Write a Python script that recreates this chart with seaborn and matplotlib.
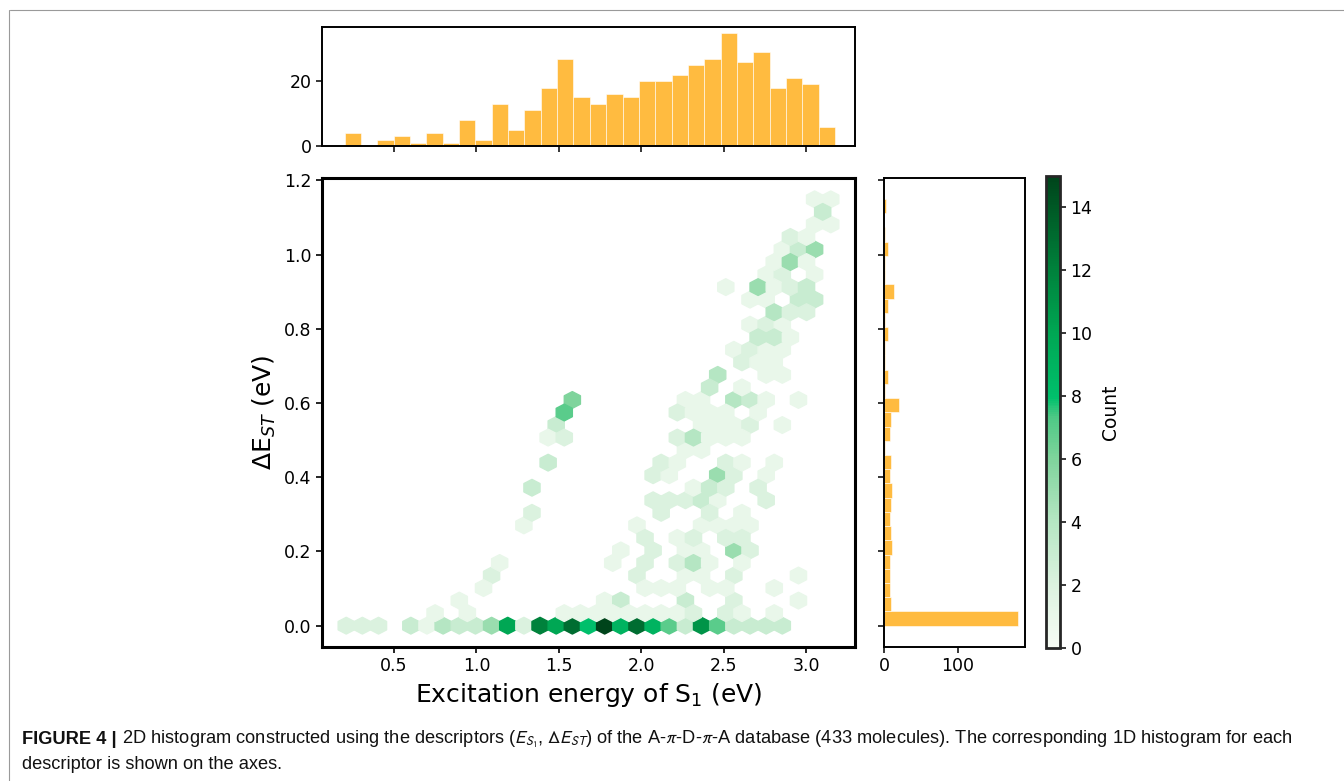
import numpy as np
import matplotlib
matplotlib.use("Agg")
import matplotlib.pyplot as plt
from matplotlib.colors import LinearSegmentedColormap
from matplotlib.lines import Line2D
from matplotlib import font_manager
import pandas as pd
import seaborn as sns

# === DATA ===
# hexbin cells: S1 energy (eV), gap (eV), molecules in the cell
e_s1 = [
    0.210, 0.308, 0.406, 0.602, 0.700, 0.798, 0.896, 0.994, 1.092, 1.190, 1.288, 1.386, 1.484, 1.582,
    1.680, 1.778, 1.876, 1.974, 2.072, 2.170, 2.268, 2.366, 2.464, 2.562, 2.660, 2.758, 2.856,  # 0.000
    0.749, 0.945, 1.533, 1.631, 1.729, 1.827, 1.925, 2.023, 2.121, 2.219, 2.317, 2.513, 2.611, 2.807,  # 0.034
    0.896, 1.778, 1.876, 2.268, 2.562, 2.954,  # 0.068
    1.043, 2.023, 2.121, 2.219, 2.415, 2.513, 2.807,  # 0.101
    1.092, 1.974, 2.268, 2.366, 2.562, 2.954,  # 0.135
    1.141, 1.827, 2.023, 2.219, 2.317, 2.415, 2.611,  # 0.169
    1.876, 2.072, 2.268, 2.366, 2.562, 2.660,  # 0.203
    2.023, 2.219, 2.317, 2.513, 2.611,  # 0.237
    1.288, 1.974, 2.366, 2.464, 2.562, 2.660,  # 0.270
    1.337, 2.121, 2.415, 2.611,  # 0.304
    2.072, 2.170, 2.268, 2.366, 2.464, 2.758,  # 0.338
    1.337, 2.317, 2.415, 2.513, 2.709,  # 0.372
    2.072, 2.170, 2.464, 2.562, 2.758,  # 0.406
    1.435, 2.121, 2.219, 2.513, 2.611, 2.807,  # 0.439
    2.268, 2.366,  # 0.473
    1.435, 1.533, 2.219, 2.317, 2.415, 2.513, 2.611,  # 0.507
    1.484, 2.366, 2.464, 2.562, 2.660, 2.856,  # 0.541
    1.533, 2.219, 2.317, 2.415, 2.513, 2.709,  # 0.575
    1.582, 2.268, 2.366, 2.562, 2.660, 2.758, 2.954,  # 0.608
    2.415, 2.611,  # 0.642
    2.464, 2.758, 2.856,  # 0.676
    2.611, 2.709, 2.807,  # 0.710
    2.562, 2.660, 2.758, 2.856,  # 0.744
    2.709, 2.807, 2.905,  # 0.777
    2.660, 2.758, 2.856,  # 0.811
    2.807, 2.905, 3.003,  # 0.845
    2.660, 2.758, 2.954, 3.052,  # 0.879
    2.513, 2.709, 2.807, 2.905, 3.003,  # 0.913
    2.758, 2.856, 3.052,  # 0.946
    2.807, 2.905, 3.003,  # 0.980
    2.856, 2.954, 3.052,  # 1.014
    2.905, 3.003,  # 1.048
    3.052, 3.150,  # 1.082
    3.101,  # 1.115
    3.052, 3.150,  # 1.149
]
d_est = (
    [0.000] * 27 + [0.034] * 14 + [0.068] * 6 + [0.101] * 7 + [0.135] * 6 + [0.169] * 7
    + [0.203] * 6 + [0.237] * 5 + [0.270] * 6 + [0.304] * 4 + [0.338] * 6 + [0.372] * 5
    + [0.406] * 5 + [0.439] * 6 + [0.473] * 2 + [0.507] * 7 + [0.541] * 6 + [0.575] * 6
    + [0.608] * 7 + [0.642] * 2 + [0.676] * 3 + [0.710] * 3 + [0.744] * 4 + [0.777] * 3
    + [0.811] * 3 + [0.845] * 3 + [0.879] * 4 + [0.913] * 5 + [0.946] * 3 + [0.980] * 3
    + [1.014] * 3 + [1.048] * 2 + [1.082] * 2 + [1.115] * 1 + [1.149] * 2
)
n_mol = [
    2, 2, 2, 3, 1, 4, 3, 3, 5, 10, 2, 12, 10, 13, 8, 15, 9, 13, 9, 7, 3, 11, 7, 3, 3, 3, 3,
    1, 1, 1, 1, 1, 1, 1, 1, 1, 1, 2, 2, 1, 1,
    1, 1, 3, 3, 2, 1,
    1, 1, 1, 1, 1, 1, 1,
    2, 2, 1, 1, 2, 1,
    1, 1, 2, 2, 4, 1, 1,
    1, 2, 1, 1, 5, 2,
    2, 1, 2, 2, 2,
    1, 1, 1, 1, 1, 1,
    2, 2, 2, 1,
    2, 2, 2, 3, 1, 2,
    3, 1, 3, 2, 2,
    2, 1, 5, 2, 1,
    3, 2, 1, 2, 1, 1,
    1, 1,
    1, 2, 2, 4, 1, 1, 1,
    3, 1, 1, 1, 2, 1,
    7, 2, 1, 1, 1, 1,
    6, 1, 1, 4, 3, 1, 1,
    3, 1,
    4, 1, 1,
    2, 1, 1,
    1, 2, 1, 1,
    3, 3, 1,
    1, 2, 1,
    4, 2, 2,
    1, 1, 3, 3,
    1, 5, 1, 2, 3,
    1, 2, 1,
    1, 5, 1,
    1, 3, 5,
    2, 1,
    1, 1,
    3,
    1, 1,
]

# marginal histograms (30 bins each)
s1_range = (0.20, 3.176)
s1_counts = [4, 0, 2, 3, 1, 4, 1, 8, 2, 13, 5, 11, 18, 27, 15, 13, 16, 15, 20, 20,
             22, 25, 27, 35, 26, 29, 18, 21, 19, 6]
est_range = (0.0, 1.15)
est_counts = [182, 10, 8, 8, 8, 11, 9, 8, 9, 11, 8, 10, 2, 8, 9, 21, 1, 5, 2, 2,
              5, 2, 6, 14, 1, 2, 5, 1, 0, 3]

caption_1 = (" 2D histogram constructed using the descriptors ($E_{S_1}$, $\\Delta E_{ST}$) "
             "of the A-$\\pi$-D-$\\pi$-A database (433 molecules). The corresponding 1D histogram for each")
caption_2 = "descriptor is shown on the axes."

# === STYLE ===
sns.set_style("ticks")
plt.rcParams["font.family"] = ["DejaVu Sans"]
plt.rcParams.update({"text.color": "black", "axes.labelcolor": "black",
                     "xtick.color": "black", "ytick.color": "black"})

cmap = LinearSegmentedColormap.from_list("count_greens", [
    (0.00, "#f7fcf5"), (0.13, "#dcf2e0"), (0.27, "#b4e6c2"), (0.40, "#7fd49c"),
    (0.49, "#4dc985"), (0.53, "#00c06c"), (0.67, "#00a653"), (0.80, "#00823c"),
    (0.93, "#005a26"), (1.00, "#00441b"),
])


def pick_font(names):
    for n in names:
        try:
            font_manager.findfont(n, fallback_to_default=False)
            return n
        except ValueError:
            pass
    return "DejaVu Sans"


cap_font = pick_font(["Liberation Sans Narrow", "Liberation Sans", "Roboto"])

W, H = 1344, 781
fig = plt.figure(figsize=(W / 100, H / 100), dpi=100)


def box(l, t, r, b):
    return [l / W, 1 - b / H, (r - l) / W, (b - t) / H]


ax = fig.add_axes(box(322, 178, 855, 647))
ax_top = fig.add_axes(box(322, 27, 855, 146))
ax_right = fig.add_axes(box(884, 178, 1025, 647))
cax = fig.add_axes(box(1046, 176, 1060, 648))

# === JOINT HEXBIN ===
hb = ax.hexbin(e_s1, d_est, C=n_mol, reduce_C_function=np.sum, gridsize=30,
               mincnt=1, cmap=cmap, vmin=0, vmax=15)
ax.set_xlabel("Excitation energy of S$_1$ (eV)", fontsize=18)
ax.set_ylabel("ΔE$_{ST}$ (eV)", fontsize=18)
ax.set_xticks([0.5, 1.0, 1.5, 2.0, 2.5, 3.0])
ax.set_yticks([0.0, 0.2, 0.4, 0.6, 0.8, 1.0, 1.2])
ax.tick_params(labelsize=12.5, length=4, width=1.2, direction="out")
for s in ax.spines.values():
    s.set_linewidth(2.2)
    s.set_color("black")

# === MARGINALS ===
s1_edges = np.linspace(*s1_range, len(s1_counts) + 1)
est_edges = np.linspace(*est_range, len(est_counts) + 1)
top_df = pd.DataFrame({"e_s1": (s1_edges[:-1] + s1_edges[1:]) / 2, "n": s1_counts})
right_df = pd.DataFrame({"d_est": (est_edges[:-1] + est_edges[1:]) / 2, "n": est_counts})

sns.histplot(data=top_df, x="e_s1", weights="n", bins=len(s1_counts), binrange=s1_range,
             color="orange", alpha=0.75, edgecolor="white", linewidth=0.4, ax=ax_top)
sns.histplot(data=right_df, y="d_est", weights="n", bins=len(est_counts), binrange=est_range,
             color="orange", alpha=0.75, edgecolor="white", linewidth=0.4, ax=ax_right)

ax_top.set_xlim(ax.get_xlim())
ax_top.set_yticks([0, 20])
ax_top.set_xticks(ax.get_xticks())
ax_top.set_xticklabels([])
ax_top.set_xlabel("")
ax_top.set_ylabel("")

ax_right.set_ylim(ax.get_ylim())
ax_right.set_xticks([0, 100])
ax_right.set_yticks(ax.get_yticks())
ax_right.set_yticklabels([])
ax_right.set_xlabel("")
ax_right.set_ylabel("")

for a in (ax_top, ax_right):
    a.tick_params(labelsize=12.5, length=4, width=1.1, direction="out")
    for s in a.spines.values():
        s.set_visible(True)
        s.set_linewidth(1.4)
        s.set_color("black")

# === COLORBAR ===
cb = fig.colorbar(hb, cax=cax)
cb.set_ticks(range(0, 15, 2))
cb.ax.tick_params(labelsize=12.5, length=4, width=1.1)
cb.outline.set_linewidth(2.0)
cb.set_label("Count", fontsize=13.5, labelpad=6)

# === PAGE FRAME + CAPTION ===
fig.add_artist(Line2D([10 / W, 1.0], [1 - 10 / H, 1 - 10 / H], transform=fig.transFigure,
                      color="#9a9a9a", lw=0.8))
fig.add_artist(Line2D([9 / W, 9 / W], [0.0, 1 - 10 / H], transform=fig.transFigure,
                      color="#9a9a9a", lw=0.8))

cap_kw = dict(family=cap_font, va="baseline", math_fontfamily="stixsans", color="#111111")


def place_caption(size):
    lead = fig.text(22 / W, 1 - 744 / H, "FIGURE 4 |", fontsize=size, fontweight="bold", **cap_kw)
    fig.canvas.draw()
    x0 = lead.get_window_extent().x1
    body = fig.text(x0 / W, 1 - 744 / H, caption_1, fontsize=size, **cap_kw)
    tail = fig.text(22 / W, 1 - 769 / H, caption_2, fontsize=size, **cap_kw)
    fig.canvas.draw()
    return [lead, body, tail], body.get_window_extent().x1


size = 12.5
texts, right = place_caption(size)
for t in texts:
    t.remove()
size = size * (1293 - 22) / (right - 22)
place_caption(size)

fig.savefig("out.png", dpi=100)
